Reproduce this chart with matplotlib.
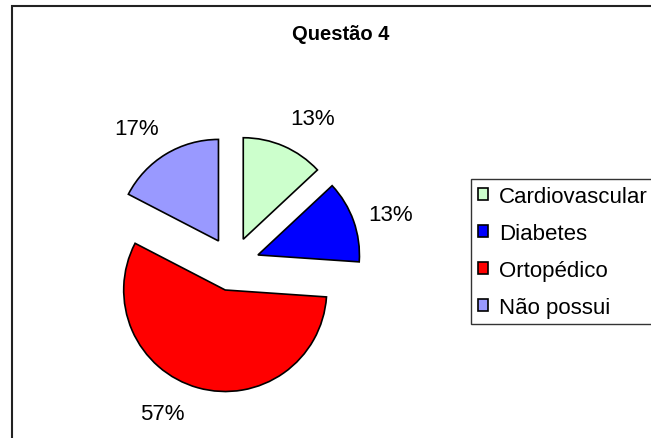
import matplotlib
matplotlib.use('Agg')
import matplotlib.pyplot as plt
from matplotlib.patches import Rectangle
import numpy as np

plt.rcParams['font.family'] = ['Liberation Sans', 'DejaVu Sans']

categorias = ['Cardiovascular', 'Diabetes', 'Ortopédico', 'Não possui']
respostas = [3, 3, 13, 4]
cores = ['#CCFFCC', '#0000FF', '#FF0000', '#9999FF']
titulo = 'Questão 4'

# small angle nudges (degrees) so the % labels sit like the excel ones
ajuste = [-6.2, -2.6, -11.4, 4.7]

W, H = 651, 439
fig = plt.figure(figsize=(W / 100, H / 100), dpi=100)

# pie centre at (232.5, 265) px, 100 px per data unit
cx, cy = 232.5, 265
ax = fig.add_axes([(cx - 200) / W, (H - cy - 200) / H, 400 / W, 400 / H])
ax.set_xlim(-2, 2)
ax.set_ylim(-2, 2)
ax.axis('off')

r = 1.015
wedges, textos, pcts = ax.pie(respostas, colors=cores, startangle=90, counterclock=False,
                              explode=[0.27] * len(respostas), radius=r,
                              autopct='%1.0f%%', pctdistance=1.37,
                              wedgeprops=dict(edgecolor='black', linewidth=1.2),
                              textprops=dict(fontsize=16, color='black'))
ax.set_xlim(-2, 2)
ax.set_ylim(-2, 2)

for w, t, a in zip(wedges, pcts, ajuste):
    ang = np.deg2rad((w.theta1 + w.theta2) / 2 + a)
    x0, y0 = w.center
    t.set_position((x0 + 1.37 * r * np.cos(ang), y0 + 1.37 * r * np.sin(ang)))

fig.text(341 / W, 1 - 35 / H, titulo, ha='center', va='center', fontsize=14.5, fontweight='bold')

leg = fig.legend(wedges, categorias, loc='upper left', bbox_to_anchor=(471 / W, 1 - 180 / H),
                 fontsize=16, frameon=True, fancybox=False, borderpad=0.3,
                 handlelength=0.45, handleheight=0.45, handletextpad=0.5,
                 labelspacing=0.72, borderaxespad=0)
leg.get_frame().set_edgecolor('black')
leg.get_frame().set_linewidth(1)

# chart area border (runs off the right and bottom edges)
fig.add_artist(Rectangle((12 / W, -0.1), 1.2, 1.1 - 7 / H, transform=fig.transFigure,
                         fill=False, edgecolor='#222222', linewidth=1.5))

fig.savefig('out.png', dpi=100)
